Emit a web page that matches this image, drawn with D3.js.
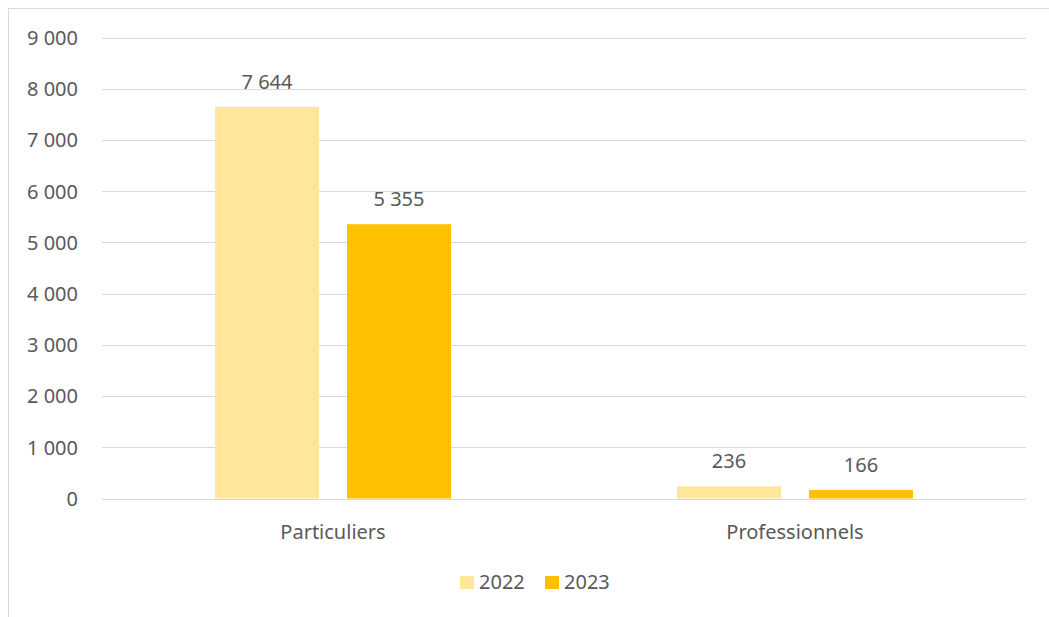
<!DOCTYPE html>
<html><head><meta charset="utf-8">
<script src="https://cdn.jsdelivr.net/npm/d3@7"></script>
<style>body{margin:0;background:#fff;overflow:hidden;}svg{display:block;}text{font-family:"Noto Sans",Lato,sans-serif;fill:#595959;}</style>
</head><body><svg id="c" width="1049" height="617"></svg>
<script>
const categories = ["Particuliers", "Professionnels"];
const seriesNames = ["2022", "2023"];
const values2022 = [7644, 236];
const values2023 = [5355, 166];
const yTicks = [0,1000,2000,3000,4000,5000,6000,7000,8000,9000];
const colors = ["#FFE699", "#FFC000"];

(function(){
const svg = d3.select("#c");
const fr = d3.formatLocale({decimal:",", thousands:"\u202F", grouping:[3], currency:["","€"]});
const fmt = v => fr.format(",")(v).replace(/\u202F/g, " ");
const FS = 20;

svg.append("rect").attr("x",8.5).attr("y",8.5).attr("width",1100).attr("height",700)
  .attr("fill","none").attr("stroke","#d9d9d9").attr("stroke-width",1);

const pLeft = 102, pRight = 1026, pTop = 37.5, pBottom = 498.5;
const y = d3.scaleLinear().domain([0,9000]).range([pBottom, pTop]);
const x0 = d3.scaleBand().domain(categories).range([pLeft, pRight]);
const x1 = d3.scaleBand().domain(seriesNames).range([0, x0.bandwidth()]).paddingInner(28/132).paddingOuter(0.856);

const g = svg.append("g");
g.selectAll("line.grid").data(yTicks).join("line")
  .attr("x1",pLeft).attr("x2",pRight).attr("y1",d=>Math.round(y(d))+0.5).attr("y2",d=>Math.round(y(d))+0.5)
  .attr("stroke","#d9d9d9").attr("stroke-width",1);
g.selectAll("text.yt").data(yTicks).join("text")
  .attr("x",78).attr("y",d=>y(d)+7.4).attr("text-anchor","end")
  .attr("font-size",FS).text(d=>fmt(d));

const data = categories.map((c,i)=>({cat:c, vals:[values2022[i], values2023[i]]}));
const grp = g.selectAll("g.cat").data(data).join("g").attr("transform",d=>`translate(${x0(d.cat)},0)`);
grp.selectAll("rect").data(d=>d.vals.map((v,j)=>({s:seriesNames[j], v, j}))).join("rect")
  .attr("x",d=>x1(d.s)).attr("width",x1.bandwidth())
  .attr("y",d=>y(d.v)).attr("height",d=>y(0)-y(d.v)).attr("fill",d=>colors[d.j]);
g.append("line").attr("x1",pLeft).attr("x2",pRight).attr("y1",Math.round(y(0))+0.5).attr("y2",Math.round(y(0))+0.5)
  .attr("stroke","#d9d9d9");
grp.selectAll("text.lbl").data(d=>d.vals.map((v,j)=>({s:seriesNames[j], v, j}))).join("text")
  .attr("x",d=>x1(d.s)+x1.bandwidth()/2).attr("y",d=>y(d.v)-18).attr("text-anchor","middle")
  .attr("font-size",FS).text(d=>fmt(d.v));

g.selectAll("text.cat").data(categories).join("text")
  .attr("x",d=>x0(d)+x0.bandwidth()/2).attr("y",539).attr("text-anchor","middle")
  .attr("font-size",FS).text(d=>d);

const lg = svg.append("g");
const legX = [460, 545];
seriesNames.forEach((s,i)=>{
  lg.append("rect").attr("x",legX[i]).attr("y",576).attr("width",14).attr("height",13).attr("fill",colors[i]);
  lg.append("text").attr("x",legX[i]+19).attr("y",589).attr("font-size",FS).text(s);
});
})();
</script></body></html>
